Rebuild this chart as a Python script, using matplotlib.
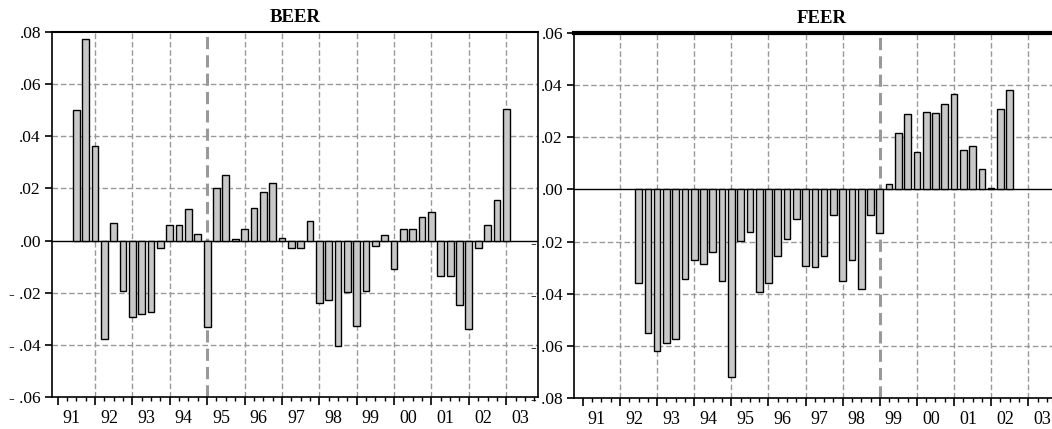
import numpy as np
import matplotlib.pyplot as plt

plt.rcParams['font.family'] = ['Liberation Serif', 'DejaVu Serif']

# quarterly misalignment series, first observation given as (year, quarter)
years = ['91', '92', '93', '94', '95', '96', '97', '98', '99', '00', '01', '02', '03']

beer_start = (1991, 3)
beer = [0.050, 0.0775, 0.0363, -0.0377, 0.0067, -0.0193, -0.0295, -0.0281,
        -0.0273, -0.0029, 0.006, 0.006, 0.012, 0.0025, -0.0332, 0.0201,
        0.0252, 0.0007, 0.0045, 0.0124, 0.0187, 0.0222, 0.001, -0.003,
        -0.003, 0.0076, -0.0238, -0.0228, -0.0406, -0.0198, -0.0326, -0.0193,
        -0.002, 0.0022, -0.011, 0.0044, 0.0044, 0.009, 0.0111, -0.0134,
        -0.0134, -0.0247, -0.0339, -0.0027, 0.006, 0.0156, 0.0504]

feer_start = (1992, 3)
feer = [-0.036, -0.0552, -0.0619, -0.0588, -0.0574, -0.0345, -0.0271, -0.0286,
        -0.0241, -0.0351, -0.0721, -0.0197, -0.0162, -0.0395, -0.0358, -0.0255,
        -0.019, -0.0115, -0.0294, -0.0299, -0.0255, -0.0098, -0.0351, -0.0271,
        -0.0382, -0.0098, -0.0168, 0.0021, 0.0218, 0.0289, 0.0145, 0.0298,
        0.0292, 0.0328, 0.0365, 0.0151, 0.0166, 0.0077, 0.0005, 0.0307, 0.0381]

beer_yticks = [0.08, 0.06, 0.04, 0.02, 0.0, -0.02, -0.04, -0.06]
feer_yticks = [0.06, 0.04, 0.02, 0.0, -0.02, -0.04, -0.06, -0.08]


def q_index(start):
    return (start[0] - 1991) * 4 + start[1] - 1


def ylabel_fmt(v):
    s = ('%.2f' % abs(v))[1:]
    if v < -1e-9:
        s = '- ' + s
    return s


def draw_panel(ax, values, start, title, yticks, xlim, thick_year, top_lw):
    x = np.arange(len(values)) + q_index(start)
    grid = '#999999'
    # horizontal grid
    for v in yticks[1:-1]:
        if abs(v) < 1e-9:
            continue
        ax.axhline(v, color=grid, lw=1, ls=(0, (4, 2)), zorder=0)
    # vertical grid at first quarter of each year
    for k in range(1, len(years)):
        lw = 2.2 if k == thick_year else 1
        ax.axvline(k * 4, color=grid, lw=lw, ls=(0, (4, 2)), zorder=0)
    ax.axhline(0, color='black', lw=1, zorder=1)
    ax.bar(x, values, width=0.72, color='#c8c8c8', edgecolor='black',
           linewidth=1, zorder=2)

    ax.set_ylim(yticks[-1], yticks[0])
    ax.set_xlim(*xlim)
    ax.set_yticks(yticks)
    ax.set_yticklabels([ylabel_fmt(v) for v in yticks], fontsize=12.5)
    ax.tick_params(axis='y', direction='out', length=5, width=1.2, pad=3)

    ax.set_xticks([k * 4 for k in range(len(years))])
    ax.set_xticks(np.arange(0, len(years) * 4), minor=True)
    ax.set_xticklabels([])
    ax.tick_params(axis='x', which='major', direction='out', length=6, width=1.2)
    ax.tick_params(axis='x', which='minor', direction='out', length=3, width=1)
    trans = ax.get_xaxis_transform()
    for k, yr in enumerate(years):
        ax.text(k * 4 + 1.5, -0.035, yr, transform=trans, ha='center', va='top',
                fontsize=13)

    for sp in ax.spines.values():
        sp.set_linewidth(1.2)
    ax.spines['top'].set_linewidth(top_lw)
    ax.set_title(title, fontsize=13.5, fontweight='bold', pad=7)


fig = plt.figure(figsize=(10.52, 4.29), dpi=100)
ax1 = fig.add_axes([52 / 1052, 1 - 397 / 429, 486 / 1052, 365 / 429])
ax2 = fig.add_axes([574 / 1052, 1 - 398 / 429, 496 / 1052, 365 / 429])

draw_panel(ax1, beer, beer_start, 'BEER', beer_yticks, (-0.6, 51.4), 4, 1.5)
draw_panel(ax2, feer, feer_start, 'FEER', feer_yticks, (-0.96, 52.5), 8, 3)

fig.savefig('out.png', dpi=100)
